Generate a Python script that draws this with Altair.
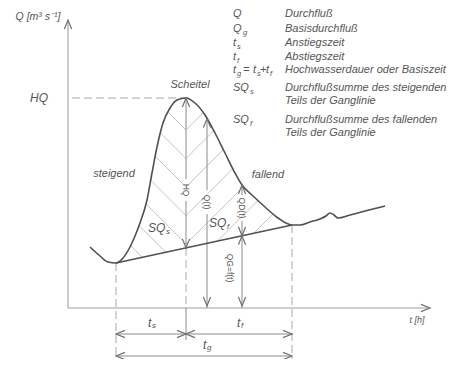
import altair as alt
import numpy as np
import pandas as pd

# ---------------- data (diagram units: t to the right, Q upward) ----------------
curve_t = [22, 32, 40, 48, 55, 62, 67, 72, 79, 84, 89, 95, 102, 109, 118, 127, 137, 147,
           157, 167, 174, 184, 197, 210, 224, 232, 242, 252, 258, 262, 266, 270, 282, 297, 317]
curve_q = [61, 52, 46, 45, 50, 61, 72, 85, 108, 135, 161, 185, 200, 208, 210, 205, 193, 175,
           155, 135, 123, 113, 101, 90, 83, 83, 86, 89, 92, 95, 93, 90, 93, 97, 102]
base_t = [48, 224]
base_q = [45, 83]

t_start, t_peak, t_end = 48, 118, 224
HQ = 210
t_qt, t_qd = 139, 174
t_axis_end, q_axis_end = 362, 288
dim_s_q, dim_g_q = -26, -48
bottom_q = -51
hatch_top, hatch_step = 178, 28.5

legend_rows_q = [294, 279, 265, 251, 238, 220, 207, 188, 175]
legend_desc = ["Durchfluß", "Basisdurchfluß", "Anstiegszeit", "Abstiegszeit",
               "Hochwasserdauer oder Basiszeit", "Durchflußsumme des steigenden",
               "Teils der Ganglinie", "Durchflußsumme des fallenden", "Teils der Ganglinie"]

# legend symbols: (text, t, Q)
sym_main = [("Q", 165, 294), ("Q", 165, 279), ("t", 165, 265), ("t", 165, 251),
            ("t", 165, 238), ("=", 175, 238), ("t", 185, 238), ("+", 192, 238),
            ("t", 198, 238), ("SQ", 165, 220), ("SQ", 165, 188)]
sym_sub = [("g", 175, 275), ("s", 169, 261), ("f", 169, 247), ("g", 169, 234),
           ("s", 189, 234), ("f", 202, 234), ("s", 182, 216), ("f", 182, 184)]

# labels in the plot
labels_big = [("HQ", -29, 210, 12), ("Scheitel", 122, 223, 11), ("steigend", 46, 134, 11),
              ("fallend", 200, 133, 11), ("Q [m³ s⁻¹]", -30, 291, 10.5), ("t [h]", 349, -12, 9)]
labels_sq = [("SQ", 80, 80), ("SQ", 141, 85)]
labels_sq_sub = [("s", 98, 76), ("f", 159, 81)]
labels_t = [("t", 80, -15), ("t", 169, -15), ("t", 135, -37)]
labels_t_sub = [("s", 84, -18), ("f", 173, -18), ("g", 139, -40)]
labels_rot = [("HQ", t_peak, 118), ("Q(t)", t_qt, 106), ("QD(t)", t_qd, 100), ("QG=f(t)", 162, 40)]


def base_at(t):
    return np.interp(t, base_t, base_q)


def curve_at(t):
    return np.interp(t, curve_t, curve_q)


# ---------------- derived geometry ----------------
hq_base = float(base_at(t_peak))
qt_top = float(curve_at(t_qt))
qd_top = float(curve_at(t_qd))
qd_base = float(base_at(t_qd))

# chevron hatching between hydrograph and base flow line
ts = np.linspace(t_start, t_end, 3000)
hatch = []
for k in range(12):
    qv = hatch_top - hatch_step * k
    for side in (-1, 1):
        tt = ts[ts <= t_peak] if side < 0 else ts[ts >= t_peak]
        qq = qv + np.abs(tt - t_peak)
        inside = (qq >= base_at(tt)) & (qq <= curve_at(tt))
        idx = np.where(inside)[0]
        if len(idx) > 1:
            hatch.append(dict(x=tt[idx[0]], y=qq[idx[0]], x2=tt[idx[-1]], y2=qq[idx[-1]]))
hatch_df = pd.DataFrame(hatch)

axes_df = pd.DataFrame([
    dict(x=0, y=0, x2=0, y2=q_axis_end),
    dict(x=0, y=0, x2=t_axis_end, y2=0),
])
dashed_df = pd.DataFrame([
    dict(x=4, y=HQ, x2=t_peak, y2=HQ),
    dict(x=t_start, y=45, x2=t_start, y2=bottom_q),
    dict(x=t_peak, y=hq_base, x2=t_peak, y2=0),
    dict(x=t_end, y=83, x2=t_end, y2=bottom_q),
])
arrow_df = pd.DataFrame([
    dict(x=t_peak, y=HQ, x2=t_peak, y2=129),
    dict(x=t_peak, y=107, x2=t_peak, y2=hq_base),
    dict(x=t_qt, y=qt_top, x2=t_qt, y2=118),
    dict(x=t_qt, y=94, x2=t_qt, y2=0),
    dict(x=t_qd, y=qd_top, x2=t_qd, y2=113),
    dict(x=t_qd, y=87, x2=t_qd, y2=qd_base),
    dict(x=t_qd, y=qd_base, x2=t_qd, y2=0),
    dict(x=t_peak, y=0, x2=t_peak, y2=-32),
    dict(x=t_start, y=dim_s_q, x2=t_end, y2=dim_s_q),
    dict(x=t_start, y=dim_g_q, x2=t_end, y2=dim_g_q),
])
heads_df = pd.DataFrame([
    dict(x=0, y=q_axis_end, a=0), dict(x=t_axis_end, y=0, a=90),
    dict(x=t_peak, y=HQ, a=0), dict(x=t_peak, y=hq_base, a=180),
    dict(x=t_qt, y=qt_top, a=0), dict(x=t_qt, y=2, a=180),
    dict(x=t_qd, y=qd_top, a=0), dict(x=t_qd, y=qd_base, a=180),
    dict(x=t_qd, y=qd_base, a=0), dict(x=t_qd, y=2, a=180),
    dict(x=t_start, y=dim_s_q, a=270), dict(x=t_peak, y=dim_s_q, a=90),
    dict(x=t_peak, y=dim_s_q, a=270), dict(x=t_end, y=dim_s_q, a=90),
    dict(x=t_start, y=dim_g_q, a=270), dict(x=t_end, y=dim_g_q, a=90),
])

curve_df = pd.DataFrame(dict(x=curve_t, y=curve_q))
base_df = pd.DataFrame(dict(x=base_t, y=base_q))

xs = alt.Scale(domain=[-60, 382], nice=False, zero=False)
ys = alt.Scale(domain=[-51, 300], nice=False, zero=False)
X = alt.X("x:Q", scale=xs, axis=None)
Y = alt.Y("y:Q", scale=ys, axis=None)

FONT = "Liberation Sans"
TXT = "#555555"


def rules(df, **kw):
    return alt.Chart(df).mark_rule(**kw).encode(x=X, y=Y, x2="x2:Q", y2="y2:Q")


def texts(rows, cols, align="left", italic=True, size=None, **kw):
    df = pd.DataFrame(rows, columns=cols)
    enc = dict(x=X, y=Y, text="text:N")
    if size is None:
        enc["size"] = alt.Size("s:Q", scale=None, legend=None)
    mk = dict(font=FONT, color=TXT, align=align, baseline="middle",
              fontStyle="italic" if italic else "normal")
    if size is not None:
        mk["fontSize"] = size
    mk.update(kw)
    return alt.Chart(df).mark_text(**mk).encode(**enc)


layers = [
    rules(hatch_df, color="#b4b4b4", strokeWidth=0.8),
    rules(axes_df, color="#a0a0a0", strokeWidth=1.1),
    rules(dashed_df, color="#a8a8a8", strokeWidth=1, strokeDash=[8, 4]),
    rules(arrow_df, color="#8a8a8a", strokeWidth=1),
    alt.Chart(base_df).mark_line(color="#505050", strokeWidth=1.5).encode(x=X, y=Y),
    alt.Chart(curve_df).mark_line(color="#505050", strokeWidth=1.6,
                                  interpolate="monotone").encode(x=X, y=Y),
    alt.Chart(heads_df).mark_point(shape="M-0.4,1L0,0L0.4,1", filled=False, size=324,
                                   color="#707070", strokeWidth=1.2, opacity=1).encode(
        x=X, y=Y, angle=alt.Angle("a:Q", scale=None)),
    texts([(s, t, q) for s, t, q in sym_main], ["text", "x", "y"], size=11),
    texts([(s, t, q) for s, t, q in sym_sub], ["text", "x", "y"], size=7.5),
    texts([(d, 217, q) for d, q in zip(legend_desc, legend_rows_q)], ["text", "x", "y"], size=11),
    texts(labels_big, ["text", "x", "y", "s"], align="center"),
    texts(labels_sq, ["text", "x", "y"], size=12),
    texts(labels_sq_sub, ["text", "x", "y"], size=8),
    texts(labels_t, ["text", "x", "y"], size=12),
    texts(labels_t_sub, ["text", "x", "y"], size=8),
    texts(labels_rot, ["text", "x", "y"], align="center", italic=False, size=8.5, angle=90),
]

chart = alt.layer(*layers).properties(
    width=442, height=351, padding=0, autosize="none", background="white"
).configure_view(stroke=None)

chart.save("out.html", embed_options={"renderer": "svg", "actions": False})
